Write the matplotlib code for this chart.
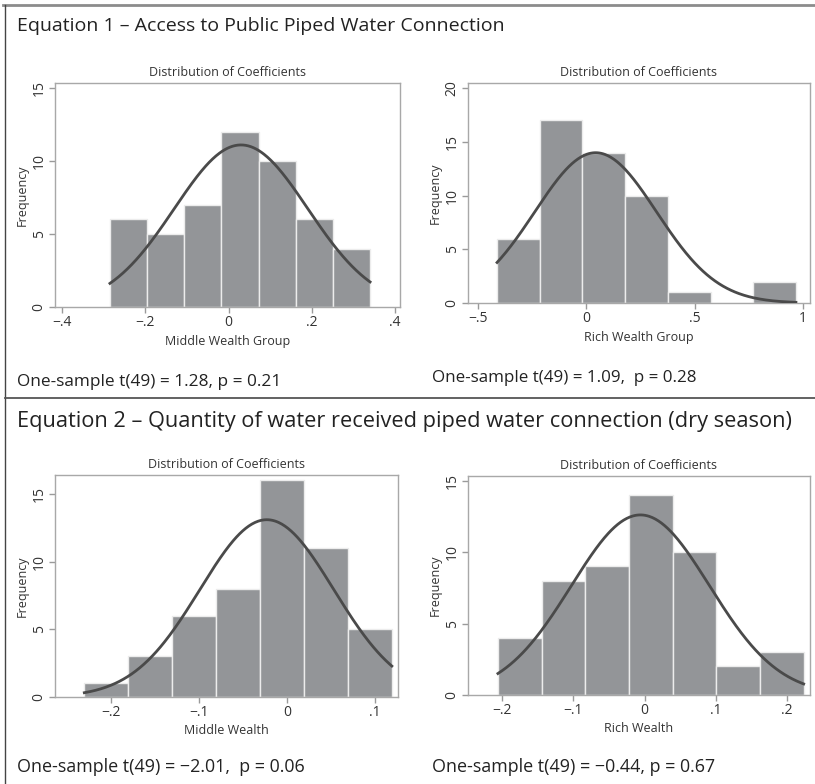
import numpy as np
import matplotlib
matplotlib.use("Agg")
import matplotlib.pyplot as plt
from matplotlib.lines import Line2D

plt.rcParams['font.family'] = ['Open Sans', 'DejaVu Sans']

W, H = 815, 784

# histogram counts (7 bins each, n = 50)
counts_mid1 = [6, 5, 7, 12, 10, 6, 4]
counts_rich1 = [6, 17, 14, 10, 1, 0, 2]
counts_mid2 = [1, 3, 6, 8, 16, 11, 5]
counts_rich2 = [4, 8, 9, 14, 10, 2, 3]

# first bin edge and bin width
bins_mid1 = (-0.285, 0.0893)
bins_rich1 = (-0.412, 0.197)
bins_mid2 = (-0.2303, 0.0499)
bins_rich2 = (-0.206, 0.0613)

# normal curve (mean, sd)
norm_mid1 = (0.03, 0.1605)
norm_rich1 = (0.043, 0.281)
norm_mid2 = (-0.023, 0.076)
norm_rich2 = (-0.006, 0.097)

xticks_mid1 = [-0.4, -0.2, 0, 0.2, 0.4]
xticks_rich1 = [-0.5, 0, 0.5, 1]
xticks_mid2 = [-0.2, -0.1, 0, 0.1]
xticks_rich2 = [-0.2, -0.1, 0, 0.1, 0.2]

yticks_mid1 = [0, 5, 10, 15]
yticks_rich1 = [0, 5, 10, 15, 20]
yticks_mid2 = [0, 5, 10, 15]
yticks_rich2 = [0, 5, 10, 15]

eq1_title = "Equation 1 \u2013 Access to Public Piped Water Connection"
eq2_title = "Equation 2 \u2013 Quantity of water received piped water connection (dry season)"
tests = ["One-sample t(49) = 1.28, p = 0.21",
         "One-sample t(49) = 1.09,  p = 0.28",
         "One-sample t(49) = \u22122.01,  p = 0.06",
         "One-sample t(49) = \u22120.44, p = 0.67"]


def fmt(v):
    if v == 0:
        return "0"
    if float(v).is_integer():
        return str(int(v))
    s = ("%g" % abs(v)).lstrip("0")
    return ("\u2212" if v < 0 else "") + s


def axes_px(l, t, r, b):
    return fig.add_axes([l / W, 1 - b / H, (r - l) / W, (b - t) / H])


fig = plt.figure(figsize=(W / 100, H / 100), dpi=100)
renderer = fig.canvas.get_renderer()


def fit_text(x0, x1, y, s, size=12):
    # text placed at pixel x0 and resized so it ends near pixel x1
    t = fig.text(x0 / W, 1 - y / H, s, fontsize=size, color='#222222', va='center')
    w = t.get_window_extent(renderer).width
    t.set_fontsize(size * (x1 - x0) / w)
    return t


def panel(box, counts, bins, norm, xlim, ylim, xticks, yticks, xlabel):
    ax = axes_px(*box)
    start, width = bins
    n = sum(counts)
    lefts = start + width * np.arange(len(counts))
    ax.bar(lefts, counts, width=width, align='edge', color='#939598',
           edgecolor='#ececec', linewidth=1.0, zorder=2)
    mu, sd = norm
    xs = np.linspace(start, start + width * len(counts), 300)
    ys = n * width * np.exp(-0.5 * ((xs - mu) / sd) ** 2) / (np.sqrt(2 * np.pi) * sd)
    ax.plot(xs, ys, color='#4a4a4a', lw=2.0, zorder=3)
    ax.set_xlim(*xlim)
    ax.set_ylim(*ylim)
    ax.set_xticks(xticks)
    ax.set_xticklabels([fmt(v) for v in xticks], fontsize=10)
    ax.set_yticks(yticks)
    ax.set_yticklabels([fmt(v) for v in yticks], fontsize=10,
                       rotation=90, va='center')
    ax.tick_params(colors='#9a9a9a', length=4, width=1, pad=2, labelcolor='#333333')
    for s in ax.spines.values():
        s.set_color('#a8a8a8')
        s.set_linewidth(1)
    ax.set_xlabel(xlabel, fontsize=9, color='#333333', labelpad=3)
    ax.set_ylabel("Frequency", fontsize=9, color='#333333', labelpad=2)
    ax.set_title("Distribution of Coefficients", fontsize=9, color='#333333', pad=5)
    return ax


panel((55, 83, 400, 307), counts_mid1, bins_mid1, norm_mid1, (-0.417, 0.412),
      (0, 15.34), xticks_mid1, yticks_mid1, "Middle Wealth Group")
panel((468, 83, 810, 303), counts_rich1, bins_rich1, norm_rich1, (-0.546, 1.032),
      (0, 20.47), xticks_rich1, yticks_rich1, "Rich Wealth Group")
panel((55, 475, 398, 697), counts_mid2, bins_mid2, norm_mid2, (-0.2636, 0.126),
      (0, 16.4), xticks_mid2, yticks_mid2, "Middle Wealth")
panel((468, 476, 810, 695), counts_rich2, bins_rich2, norm_rich2, (-0.248, 0.232),
      (0, 15.33), xticks_rich2, yticks_rich2, "Rich Wealth")

# frame lines
fig.add_artist(Line2D([3 / W, 1], [1 - 5 / H, 1 - 5 / H], color='#8c8c8c', lw=2))
fig.add_artist(Line2D([5 / W, 5 / W], [0, 1 - 5 / H], color='#444444', lw=1))
fig.add_artist(Line2D([5 / W, 1], [1 - 398 / H, 1 - 398 / H], color='#555555', lw=1.3))

fit_text(17, 505, 26, eq1_title, 14)
fit_text(17, 795, 422, eq2_title, 14)
fit_text(17, 279, 382, tests[0])
fit_text(432, 695, 378, tests[1])
fit_text(17, 304, 767, tests[2])
fit_text(432, 715, 767, tests[3])

fig.savefig("out.png", dpi=100)
